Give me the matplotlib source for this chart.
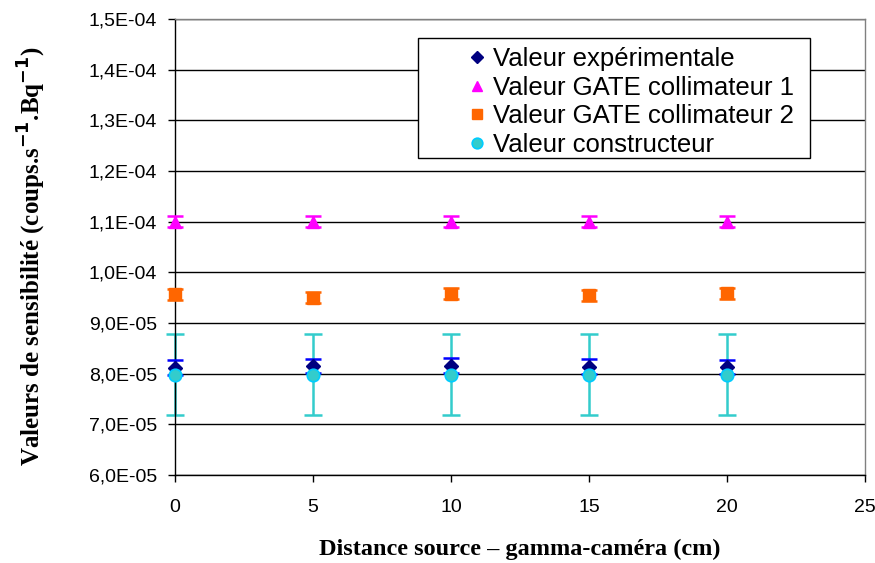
import matplotlib
matplotlib.use("Agg")
import matplotlib.pyplot as plt
from matplotlib.ticker import FuncFormatter, MultipleLocator
from matplotlib.patches import Rectangle

distance = [0, 5, 10, 15, 20]
exp_vals = [8.12e-5, 8.15e-5, 8.16e-5, 8.14e-5, 8.13e-5]
exp_err = [1.4e-6, 1.45e-6, 1.5e-6, 1.4e-6, 1.35e-6]
gate1_vals = [1.10e-4, 1.10e-4, 1.10e-4, 1.10e-4, 1.10e-4]
gate1_err = [1.1e-6, 1.1e-6, 1.1e-6, 1.1e-6, 1.1e-6]
gate2_vals = [9.57e-5, 9.50e-5, 9.58e-5, 9.55e-5, 9.59e-5]
gate2_err = [1.1e-6, 1.1e-6, 1.1e-6, 1.1e-6, 1.1e-6]
const_vals = [7.98e-5, 7.98e-5, 7.98e-5, 7.98e-5, 7.98e-5]
const_err = [8.0e-6, 8.0e-6, 8.0e-6, 8.0e-6, 8.0e-6]

labels = ["Valeur expérimentale", "Valeur GATE collimateur 1",
          "Valeur GATE collimateur 2", "Valeur constructeur"]

W, H = 875, 563
fig = plt.figure(figsize=(W / 100, H / 100), dpi=100)
ax = fig.add_axes([175 / W, 1 - 475 / H, 690 / W, 456 / H])

ax.set_xlim(0, 25)
ax.set_ylim(6e-5, 1.5e-4)
ax.yaxis.set_major_locator(MultipleLocator(1e-5))
ax.xaxis.set_major_locator(MultipleLocator(5))

def fmt(v, pos):
    s = "%.1E" % v
    mant, exp = s.split("E")
    e = int(exp)
    return "%sE%s%02d" % (mant.replace(".", ","), "-" if e < 0 else "+", abs(e))
ax.yaxis.set_major_formatter(FuncFormatter(fmt))

ax.grid(axis="y", color="black", linewidth=1.0, zorder=0)
ax.set_axisbelow(True)

ax.errorbar(distance, const_vals, yerr=const_err, fmt="none", ecolor="#33CCCC",
            elinewidth=1.8, capsize=6.5, capthick=1.8, zorder=2, clip_on=False)
ax.errorbar(distance, exp_vals, yerr=exp_err, fmt="none", ecolor="#0000FF",
            elinewidth=1.8, capsize=6, capthick=1.8, zorder=3, clip_on=False)
ax.errorbar(distance, gate1_vals, yerr=gate1_err, fmt="none", ecolor="#FF00FF",
            elinewidth=1.8, capsize=6, capthick=1.8, zorder=3, clip_on=False)
ax.errorbar(distance, gate2_vals, yerr=gate2_err, fmt="none", ecolor="#FF6600",
            elinewidth=1.8, capsize=6, capthick=1.8, zorder=3, clip_on=False)

h1, = ax.plot(distance, exp_vals, linestyle="none", marker="D", ms=7,
              color="#000080", zorder=4, clip_on=False)
h2, = ax.plot(distance, gate1_vals, linestyle="none", marker="^", ms=9,
              color="#FF00FF", zorder=4, clip_on=False)
h3, = ax.plot(distance, gate2_vals, linestyle="none", marker="s", ms=8,
              color="#FF6600", zorder=4, clip_on=False)
h4, = ax.plot(distance, const_vals, linestyle="none", marker="o", ms=9,
              markerfacecolor="#33CCCC", markeredgecolor="#00CCFF",
              markeredgewidth=1.2, zorder=5, clip_on=False)

for side in ["top", "right"]:
    ax.spines[side].set_color("#808080")
for side in ["left", "bottom"]:
    ax.spines[side].set_color("black")
for sp in ax.spines.values():
    sp.set_linewidth(1.0)

ax.tick_params(axis="both", direction="out", length=5, width=1, color="black",
               labelsize=14)
ax.tick_params(axis="y", pad=8)
ax.tick_params(axis="x", pad=12)
for lab in ax.get_yticklabels() + ax.get_xticklabels():
    lab.set_fontfamily("Liberation Sans")

ax.set_ylabel("Valeurs de sensibilité (coups.s$^{\\mathbf{-1}}$.Bq$^{\\mathbf{-1}}$)",
              family="Liberation Serif", fontweight="bold", fontsize=18)
ax.yaxis.set_label_coords(-0.184, 0.48)
ax.set_xlabel("Distance source – gamma-caméra (cm)", family="Liberation Serif",
              fontweight="bold", fontsize=17.5, labelpad=17)

frame = Rectangle((418 / W, 1 - 158 / H), 392 / W, 120 / H, transform=fig.transFigure,
                  facecolor="white", edgecolor="black", linewidth=1.0, zorder=6)
fig.add_artist(frame)

leg = fig.legend([h1, h2, h3, h4], labels, loc="upper left",
                 bbox_to_anchor=(462 / W, 1 - 47 / H), frameon=False,
                 borderpad=0, labelspacing=0.18, handletextpad=0.0,
                 handlelength=1.2, borderaxespad=0,
                 prop={"family": "Liberation Sans", "size": 18.5}, markerscale=0.85)
leg.set_zorder(7)

fig.savefig("out.png", dpi=100)
